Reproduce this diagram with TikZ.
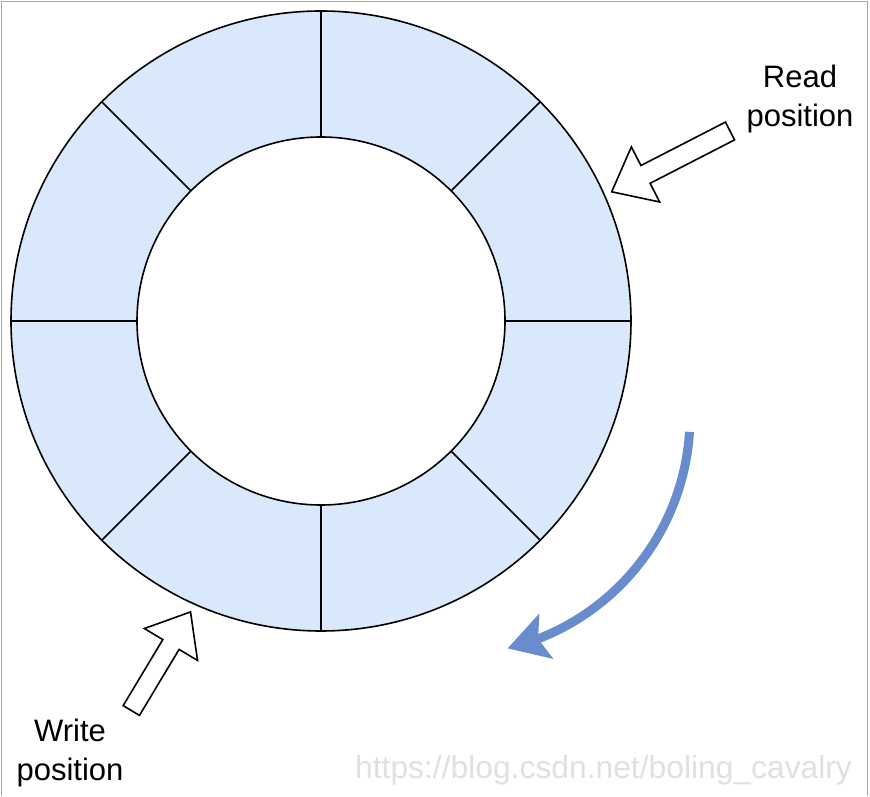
\documentclass[tikz,border=0pt]{standalone}
\usepackage{fontspec}
\setmainfont{Liberation Sans}
\usepackage{xcolor}
\usetikzlibrary{arrows.meta,bending}

\definecolor{cellblue}{HTML}{DAE8FC}
\definecolor{flowblue}{RGB}{104,140,204}
\definecolor{framegray}{RGB}{165,168,170}

\begin{document}
\begin{tikzpicture}[x=1pt,y=1pt]
		\tikzstyle{ring_line}=[draw=black, line width=1.6pt]
		\tikzstyle{block_arrow}=[draw=black, line width=1.6pt, fill=white, line join=miter]
		\tikzstyle{label_text}=[align=center, font=\fontsize{31}{39}\selectfont, inner sep=0pt]
		\tikzstyle{flow}=[draw=flowblue, line width=9pt, -{Stealth[length=40pt,width=46pt,inset=8pt,flex]}]
		\tikzstyle{watermark}=[text=black!12, font=\fontsize{31.8}{37}\selectfont, inner sep=0pt, anchor=base west]

		\useasboundingbox (0,0) rectangle (870,796);
		\draw[framegray, line width=1.2pt] (1.5,0) -- (1.5,794.5) -- (867.5,794.5) -- (867.5,0);

		\begin{scope}
			\coordinate (C) at (321,475);
			\fill[cellblue, even odd rule] (C) circle (310) (C) circle (184);
			\draw[ring_line] (C) circle (310);
			\draw[ring_line] (C) circle (184);
			\foreach \a in {0,45,...,315}
				\draw[ring_line] ([shift={(\a:184)}]C) -- ([shift={(\a:310)}]C);
		\end{scope}

		\node[label_text] (read) at (800,697) {Read\\position};
		\begin{scope}[shift={(730,665)}, rotate=207.2]
			\draw[block_arrow] (0,-10) -- (95,-10) -- (95,-31) -- (133,0) -- (95,31) -- (95,10) -- (0,10) -- cycle;
		\end{scope}

		\node[label_text] (write) at (70,43) {Write\\position};
		\begin{scope}[shift={(131.3,85.5)}, rotate=59]
			\draw[block_arrow] (0,-9.5) -- (77,-9.5) -- (77,-31) -- (115,0) -- (77,31) -- (77,9.5) -- (0,9.5) -- cycle;
		\end{scope}

		\coordinate (flow_start) at (689.5,364.1);
		\draw[flow] (flow_start) arc[start angle=-3.6, end angle=-76.5, radius=238];

		\node[watermark] (mark) at (355,18) {https://blog.csdn.net/boling\_cavalry};

	\end{tikzpicture}
\end{document}
